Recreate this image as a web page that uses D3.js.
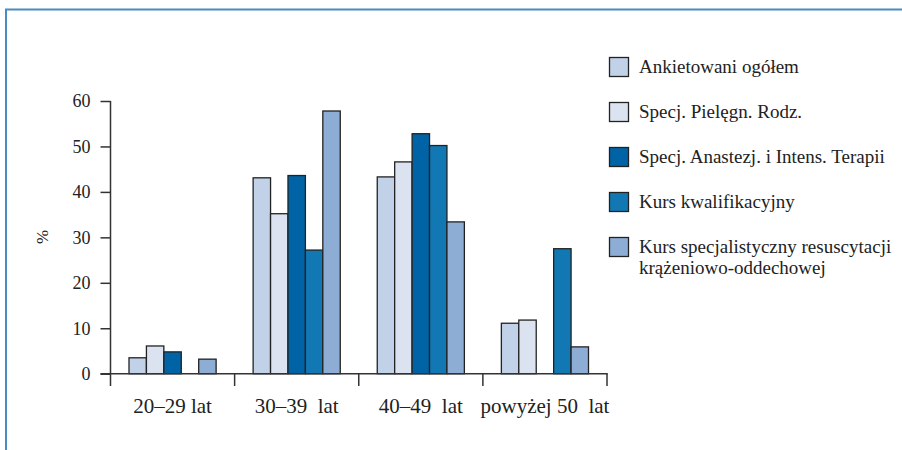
<!DOCTYPE html>
<html>
<head>
<meta charset="utf-8">
<script src="https://cdn.jsdelivr.net/npm/d3@7/dist/d3.min.js"></script>
<style>
  html, body { margin: 0; padding: 0; background: #fff; }
  svg { display: block; }
</style>
</head>
<body>
<svg id="chart" width="902" height="450"></svg>
<script>
const categories = ["20–29 lat", "30–39  lat", "40–49  lat", "powyżej 50  lat"];
const seriesNames = [
  "Ankietowani ogółem",
  "Specj. Pielęgn. Rodz.",
  "Specj. Anastezj. i Intens. Terapii",
  "Kurs kwalifikacyjny",
  "Kurs specjalistyczny resuscytacji\nkrążeniowo-oddechowej"
];
const ankietowani = [3.5, 43.1, 43.3, 11.1];
const pielegn = [6.1, 35.2, 46.6, 11.8];
const anastezj = [4.8, 43.6, 52.8, null];
const kwalifikacyjny = [null, 27.2, 50.2, 27.5];
const resuscytacja = [3.2, 57.8, 33.4, 5.9];
const yTicks = [0, 10, 20, 30, 40, 50, 60];
const colors = ["#c1d1e8", "#dce3f0", "#0063a6", "#1278b4", "#8dadd5"];

const seriesValues = [ankietowani, pielegn, anastezj, kwalifikacyjny, resuscytacja];
const FONT = "Liberation Serif";
const TXT = "#222";

const svg = d3.select("#chart");

// frame
svg.append("line").attr("x1", 5).attr("x2", 902).attr("y1", 9.5).attr("y2", 9.5)
  .attr("stroke", "#4a8bc0").attr("stroke-width", 2);
svg.append("line").attr("x1", 6).attr("x2", 6).attr("y1", 9).attr("y2", 450)
  .attr("stroke", "#4a8bc0").attr("stroke-width", 2);

const x0 = d3.scaleBand().domain(categories).range([110.5, 607]).padding(0);
const innerPad = 18.5;
const x1 = d3.scaleBand().domain(d3.range(seriesNames.length))
  .range([innerPad, x0.bandwidth() - innerPad]).padding(0);
const y = d3.scaleLinear().domain([0, 60]).range([373.7, 101]);

const axisColor = "#333";

// bars
const g = svg.append("g");
categories.forEach((c, ci) => {
  const gg = g.append("g").attr("transform", `translate(${x0(c)},0)`);
  seriesValues.forEach((vals, si) => {
    const v = vals[ci];
    if (v == null) return;
    gg.append("rect")
      .attr("x", x1(si))
      .attr("width", x1.bandwidth())
      .attr("y", y(v))
      .attr("height", y(0) - y(v))
      .attr("fill", colors[si])
      .attr("stroke", "#222")
      .attr("stroke-width", 1.3);
  });
});

// y axis
const yAxis = d3.axisLeft(y).tickValues(yTicks).tickSize(10).tickPadding(10);
const ya = svg.append("g").attr("transform", `translate(${x0.range()[0]},0)`).call(yAxis)
  .attr("font-family", FONT).attr("font-size", 18);
ya.select(".domain").remove();
ya.selectAll(".tick line").attr("stroke", axisColor).attr("stroke-width", 1.5);
ya.selectAll(".tick text").attr("fill", TXT);
svg.append("line")
  .attr("x1", x0.range()[0]).attr("x2", x0.range()[0])
  .attr("y1", y(60)).attr("y2", 386)
  .attr("stroke", axisColor).attr("stroke-width", 1.5);

// x axis
svg.append("line")
  .attr("x1", x0.range()[0] - 10).attr("x2", x0.range()[1] + 0.75)
  .attr("y1", y(0)).attr("y2", y(0))
  .attr("stroke", axisColor).attr("stroke-width", 1.5);
const bounds = categories.map(c => x0(c)).concat([x0.range()[1]]);
svg.selectAll(".xtick").data(bounds.slice(1)).enter().append("line")
  .attr("x1", d => d).attr("x2", d => d)
  .attr("y1", y(0)).attr("y2", 386)
  .attr("stroke", axisColor).attr("stroke-width", 1.5);
svg.selectAll(".xlab").data(categories).enter().append("text")
  .attr("x", d => x0(d) + x0.bandwidth() / 2)
  .attr("y", 413)
  .attr("text-anchor", "middle")
  .attr("font-family", FONT)
  .attr("font-size", 21)
  .attr("fill", TXT)
  .style("white-space", "pre")
  .text(d => d);

// y label
svg.append("text")
  .attr("transform", "translate(48,237) rotate(-90)")
  .attr("text-anchor", "middle")
  .attr("font-family", FONT)
  .attr("font-size", 17)
  .attr("fill", TXT)
  .text("%");

// legend
const leg = svg.append("g");
seriesNames.forEach((name, i) => {
  const cy = 67 + i * 45;
  leg.append("rect")
    .attr("x", 609.5).attr("y", cy - 9.5)
    .attr("width", 19).attr("height", 19)
    .attr("fill", colors[i]).attr("stroke", "#222").attr("stroke-width", 1.3);
  const lines = name.split("\n");
  const t = leg.append("text").attr("x", 639).attr("y", cy + 6)
    .attr("font-family", FONT).attr("font-size", 19).attr("fill", TXT);
  lines.forEach((ln, li) => {
    t.append("tspan").attr("x", 639).attr("dy", li === 0 ? 0 : 21).text(ln);
  });
});
</script>
</body>
</html>
